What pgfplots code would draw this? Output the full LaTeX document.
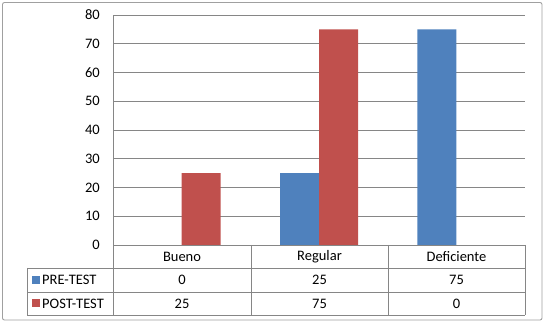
\documentclass[border=0pt]{standalone}
\usepackage{pgfplots}
\pgfplotsset{compat=1.18}
\usepackage{fontspec}
\setmainfont{Carlito}
\definecolor{preblue}{RGB}{79,129,189}
\definecolor{postred}{RGB}{192,80,77}
\definecolor{gridgray}{RGB}{134,134,134}
\definecolor{bordergray}{RGB}{160,160,160}
\begin{document}
\fontsize{14.5}{17}\selectfont
\begin{tikzpicture}[x=1pt,y=1pt]
\useasboundingbox (0,0) rectangle (545,323);
\draw[bordergray, line width=0.9pt, rounded corners=2pt] (2.5,3) rectangle (542,320.5);
\begin{axis}[
  at={(113pt,78pt)}, anchor=south west,
  width=412pt, height=230pt, scale only axis,
  xmin=-0.5, xmax=2.5, ymin=0, ymax=80,
  ytick={0,10,...,80}, xtick=\empty,
  ymajorgrids, grid style={gridgray, line width=0.7pt},
  axis x line=none, axis y line*=left,
  y axis line style={gridgray, line width=0.7pt, -},
  major tick length=0pt,
  yticklabel style={inner sep=0pt, xshift=-13pt, font=\fontsize{14.5}{17}\selectfont},
  /pgf/number format/assume math mode=true,
  ybar=0pt, bar width=39pt,
  clip=false,
]
% PRE-TEST: Bueno 0, Regular 25, Deficiente 75 (zero bar not drawn)
\addplot[fill=preblue, draw=none] coordinates {(1,25) (2,75)};
% POST-TEST: Bueno 25, Regular 75, Deficiente 0 (zero bar not drawn)
\addplot[fill=postred, draw=none] coordinates {(0,25) (1,75)};
\end{axis}
% data table lines (image y -> 323 - y)
\begin{scope}[gridgray, line width=0.7pt]
\draw (113,78) -- (525,78);
\draw (27,55) -- (525,55);
\draw (27,31) -- (525,31);
\draw (27,8) -- (525,8);
\draw (27,55) -- (27,8);
\draw (113,78) -- (113,8);
\draw (251,78) -- (251,8);
\draw (388,78) -- (388,8);
\draw (525,78) -- (525,8);
\end{scope}
% category names
\node at (182,66.5) {Bueno};
\node at (319.5,66.5) {Regular};
\node at (456.5,66.5) {Deficiente};
% legend keys and row labels
\fill[preblue] (32,39) rectangle (40,47);
\node[anchor=west, inner sep=0pt] at (42,43) {PRE-TEST};
\fill[postred] (32,15.5) rectangle (40,23.5);
\node[anchor=west, inner sep=0pt] at (42,19.5) {POST-TEST};
% values
\node at (182,43) {0};
\node at (319.5,43) {25};
\node at (456.5,43) {75};
\node at (182,19.5) {25};
\node at (319.5,19.5) {75};
\node at (456.5,19.5) {0};
\end{tikzpicture}
\end{document}
